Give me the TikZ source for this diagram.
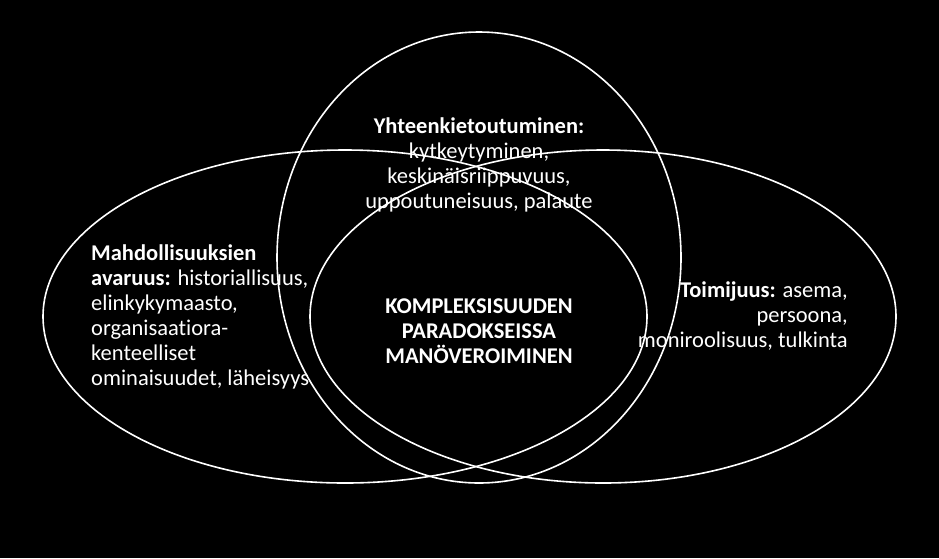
\documentclass[tikz,border=0pt]{standalone}
\usepackage{fontspec}
\setmainfont[Ligatures=NoCommon]{Carlito}
\usetikzlibrary{shapes.geometric}

\tikzstyle{ring} = [ellipse, draw=white, line width=1.6pt, inner sep=0pt]
\tikzstyle{label} = [text=white, inner sep=0pt, font=\fontsize{22.5}{25}\selectfont]

\begin{document}
\begin{tikzpicture}

\useasboundingbox (0,0) rectangle (939pt,-558pt);
\fill [black] (0,0) rectangle (939pt,-558pt);

\node (space) [ring, minimum width=604pt, minimum height=333pt, xshift = 345pt, yshift = -316.5pt] {};
\node (agency) [ring, minimum width=586pt, minimum height=333pt, xshift = 603pt, yshift = -316.5pt] {};
\node (entangle) [ring, minimum width=404pt, minimum height=451pt, xshift = 479pt, yshift = -257.5pt] {};

% base anchor sits on the last line
\node (spacetext) [label, anchor=base west, align=left, xshift = 91pt, yshift = -385pt] {\textbf{Mahdollisuuksien} \\ \textbf{avaruus:} historiallisuus, \\ elinkykymaasto, \\ organisaatiora- \\ kenteelliset \\ ominaisuudet, läheisyys};
\node (entangletext) [label, anchor=base, align=center, xshift = 479pt, yshift = -208pt] {\textbf{Yhteenkietoutuminen:} \\ kytkeytyminen, \\ keskinäisriippuvuus, \\ uppoutuneisuus, palaute};
\node (agencytext) [label, anchor=base east, align=right, xshift = 848pt, yshift = -347pt] {\textbf{Toimijuus:} asema, \\ persoona, \\ moniroolisuus, tulkinta};
\node (coretext) [label, anchor=base, align=center, xshift = 479pt, yshift = -363pt] {\textbf{KOMPLEKSISUUDEN} \\ \textbf{PARADOKSEISSA} \\ \textbf{MANÖVEROIMINEN}};

\end{tikzpicture}
\end{document}
